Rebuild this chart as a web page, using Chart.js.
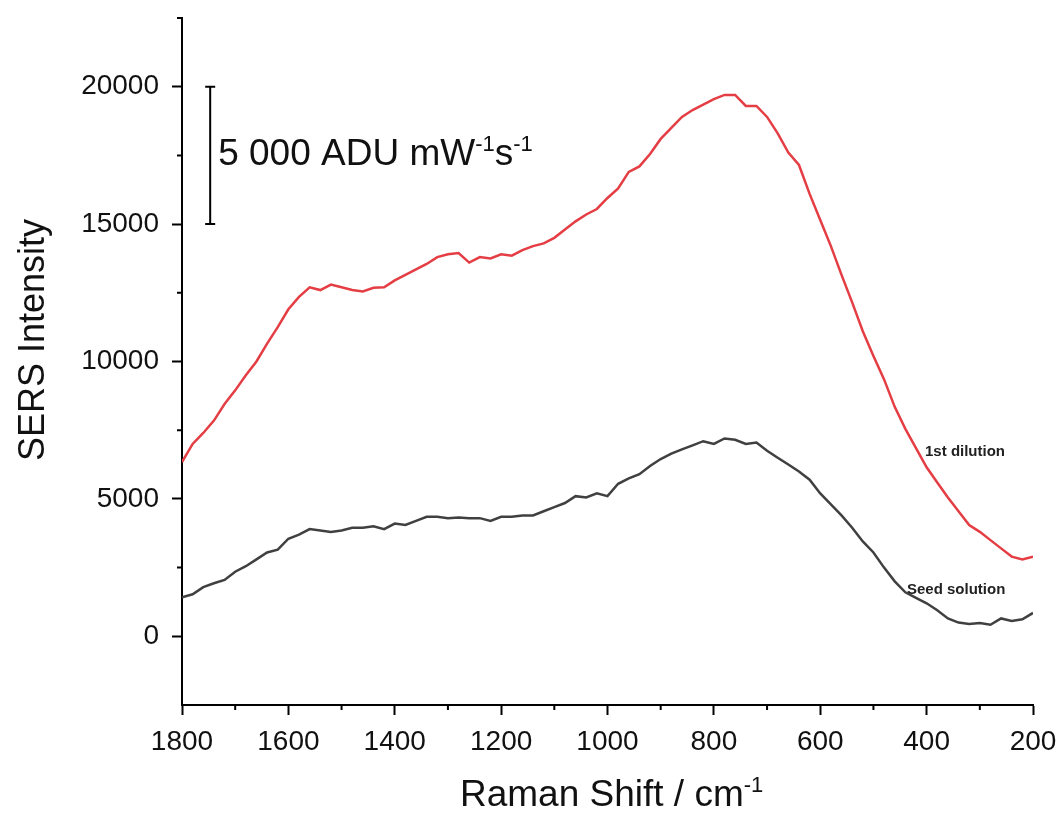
<!DOCTYPE html>
<html>
<head>
<meta charset="utf-8">
<script src="https://cdn.jsdelivr.net/npm/chart.js@4"></script>
<style>
  body { margin: 0; background: #fff; }
  canvas { display: block; }
</style>
</head>
<body>
<canvas id="ramanChart" width="1060" height="814"></canvas>
<script>
// Raman shift (cm-1), 20 cm-1 steps from 1800 down to 200
const shift = [];
for (let v = 1800; v >= 200; v -= 20) shift.push(v);

// 1st dilution (red)
const dilution = [
  6340, 7000, 7400, 7850, 8450, 8950, 9500, 10000, 10650, 11250,
  11900, 12350, 12700, 12600, 12800, 12700, 12600, 12550, 12680, 12700,
  12950, 13150, 13350, 13550, 13800, 13900, 13950, 13600, 13800, 13750,
  13900, 13850, 14050, 14200, 14300, 14500, 14800, 15100, 15350, 15550,
  15950, 16300, 16900, 17100, 17550, 18100, 18500, 18900, 19150, 19350,
  19550, 19700, 19700, 19300, 19300, 18900, 18300, 17600, 17150, 16100,
  15150, 14200, 13150, 12150, 11100, 10200, 9350, 8350, 7550, 6850,
  6150, 5600, 5050, 4550, 4050, 3800, 3500, 3200, 2900, 2800,
  2900
];

// Seed solution (dark grey)
const seed = [
  1420, 1530, 1790, 1930, 2050, 2350, 2550, 2800, 3050, 3150,
  3550, 3700, 3900, 3850, 3800, 3850, 3950, 3950, 4000, 3900,
  4100, 4050, 4200, 4350, 4350, 4300, 4320, 4300, 4300, 4200,
  4350, 4350, 4400, 4400, 4550, 4700, 4850, 5100, 5050, 5200,
  5100, 5550, 5750, 5900, 6200, 6450, 6650, 6800, 6950, 7100,
  7000, 7200, 7150, 7000, 7050, 6750, 6500, 6250, 6000, 5700,
  5200, 4800, 4400, 3950, 3450, 3050, 2500, 2000, 1600, 1400,
  1200, 950, 650, 500, 450, 480, 420, 650, 560, 620,
  850
];

// axis ticks
const xMajor = [200, 400, 600, 800, 1000, 1200, 1400, 1600, 1800];
const xMinor = [300, 500, 700, 900, 1100, 1300, 1500, 1700];
const yMajor = [0, 5000, 10000, 15000, 20000];
const yMinor = [2500, 7500, 12500, 17500, 22500];

// scale bar and curve labels (in data units)
const barShift = 1747;
const barFrom = 15000;
const barTo = 20000;
const curveLabels = [
  { text: "1st dilution", x: 403, y: 6550 },
  { text: "Seed solution", x: 437, y: 1530 }
];

const FONT = '"Liberation Sans", Arial, sans-serif';

// draw text with superscript parts: [[text, isSup], ...]
function drawRich(ctx, parts, x, y, size) {
  let cx = x;
  parts.forEach(([t, sup]) => {
    const s = sup ? Math.round(size * 0.6) : size;
    ctx.font = s + "px " + FONT;
    ctx.fillText(t, cx, sup ? y - size * 0.38 : y);
    cx += ctx.measureText(t).width;
  });
}

const extras = {
  id: "extras",
  afterDraw(chart) {
    const ctx = chart.ctx;
    const xs = chart.scales.x, ys = chart.scales.y;
    ctx.save();
    ctx.strokeStyle = "#000";
    ctx.lineWidth = 2;

    // minor ticks
    ctx.beginPath();
    xMinor.forEach(v => {
      const px = xs.getPixelForValue(v);
      ctx.moveTo(px, ys.bottom);
      ctx.lineTo(px, ys.bottom + 5);
    });
    yMinor.forEach(v => {
      const py = ys.getPixelForValue(v);
      ctx.moveTo(xs.left, py);
      ctx.lineTo(xs.left - 5, py);
    });
    ctx.stroke();

    // scale bar
    const bx = xs.getPixelForValue(barShift);
    const b1 = ys.getPixelForValue(barFrom), b2 = ys.getPixelForValue(barTo);
    ctx.beginPath();
    ctx.moveTo(bx, b1); ctx.lineTo(bx, b2);
    ctx.moveTo(bx - 5, b1); ctx.lineTo(bx + 5, b1);
    ctx.moveTo(bx - 5, b2); ctx.lineTo(bx + 5, b2);
    ctx.stroke();

    ctx.fillStyle = "#111";
    ctx.textBaseline = "alphabetic";
    ctx.textAlign = "left";
    drawRich(ctx, [["5 000 ADU mW", false], ["-1", true], ["s", false], ["-1", true]], bx + 8, 165, 37);

    // curve labels
    ctx.font = "bold 15px " + FONT;
    ctx.fillStyle = "#222";
    curveLabels.forEach(l => {
      ctx.fillText(l.text, xs.getPixelForValue(l.x), ys.getPixelForValue(l.y));
    });

    // axis titles
    ctx.fillStyle = "#111";
    drawRich(ctx, [["Raman Shift / cm", false], ["-1", true]], 460, 806, 37);

    ctx.translate(44, 340);
    ctx.rotate(-Math.PI / 2);
    ctx.textAlign = "center";
    ctx.font = "36px " + FONT;
    ctx.fillText("SERS Intensity", 0, 0);
    ctx.restore();
  }
};

const ctx = document.getElementById("ramanChart").getContext("2d");
const chart = new Chart(ctx, {
  type: "line",
  data: {
    datasets: [
      {
        label: "1st dilution",
        data: shift.map((v, i) => ({ x: v, y: dilution[i] })),
        borderColor: "rgb(228, 62, 68)",
        borderWidth: 2.5,
        pointRadius: 0,
        fill: false
      },
      {
        label: "Seed solution",
        data: shift.map((v, i) => ({ x: v, y: seed[i] })),
        borderColor: "rgb(64, 64, 64)",
        borderWidth: 2.5,
        pointRadius: 0,
        fill: false
      }
    ]
  },
  options: {
    responsive: false,
    animation: false,
    layout: { padding: { top: 18, right: 27, left: 0, bottom: 0 } },
    plugins: {
      legend: { display: false },
      tooltip: { enabled: false }
    },
    scales: {
      x: {
        type: "linear",
        reverse: true,
        min: 200,
        max: 1800,
        afterBuildTicks: scale => { scale.ticks = xMajor.map(v => ({ value: v })); },
        afterFit: scale => { scale.height = 109; scale.paddingLeft = 0; scale.paddingRight = 0; },
        ticks: {
          autoSkip: false,
          maxRotation: 0,
          padding: 10,
          color: "#111",
          font: { family: FONT, size: 28 },
          callback: v => String(v)
        },
        grid: { drawOnChartArea: false, tickLength: 10, tickWidth: 2, tickColor: "#000" },
        border: { color: "#000", width: 2 }
      },
      y: {
        min: -2500,
        max: 22500,
        afterBuildTicks: scale => { scale.ticks = yMajor.map(v => ({ value: v })); },
        afterFit: scale => { scale.width = 182; scale.paddingTop = 0; scale.paddingBottom = 0; },
        ticks: {
          padding: 13,
          color: "#111",
          font: { family: FONT, size: 28 },
          callback: v => String(v)
        },
        grid: { drawOnChartArea: false, tickLength: 10, tickWidth: 2, tickColor: "#000" },
        border: { color: "#000", width: 2 }
      }
    }
  },
  plugins: [extras]
});
</script>
</body>
</html>
